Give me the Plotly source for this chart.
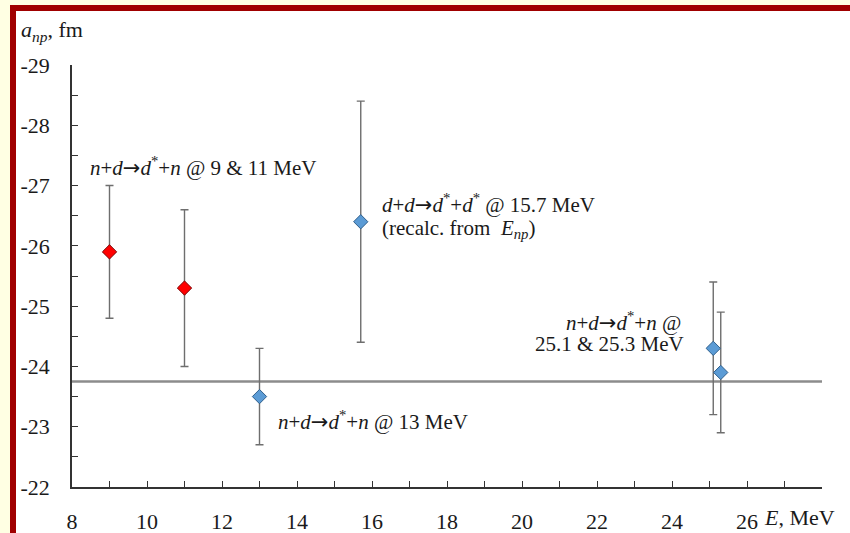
import plotly.graph_objects as go

# Measurements of the np scattering length a_np (fm) vs. beam energy E (MeV)
red_energy = [9.0, 11.0]
red_anp = [-25.9, -25.3]
red_err = [1.1, 1.3]

blue_energy = [13.0, 15.7, 25.1, 25.3]
blue_anp = [-23.5, -26.4, -24.3, -23.9]
blue_err = [0.8, 2.0, 1.1, 1.0]

reference_anp = -23.75
x_range = [8, 28]
y_range = [-22, -29]
x_tickvals = [8, 10, 12, 14, 16, 18, 20, 22, 24, 26]
y_tickvals = [-29, -28, -27, -26, -25, -24, -23, -22]
y_ticktext = ["-29", "-28", "-27", "-26", "-25", "-24", "-23", "-22"]

serif = "Liberation Serif, Times New Roman, serif"
ink = "#1a1a1a"
err_color = "#6e6e6e"
arrow = '<span style="font-family:DejaVu Sans">→</span>'

fig = go.Figure()

# reference value line
fig.add_trace(go.Scatter(
    x=x_range, y=[reference_anp, reference_anp], mode="lines",
    line=dict(color="#8c8c8c", width=2.5), hoverinfo="skip", showlegend=False,
))

fig.add_trace(go.Scatter(
    x=blue_energy, y=blue_anp, mode="markers",
    marker=dict(symbol="diamond", size=11, color="#5b9bd5",
                line=dict(color="#2f5f8c", width=1)),
    error_y=dict(type="data", array=blue_err, arrayminus=blue_err,
                 color=err_color, thickness=1.4, width=4),
    showlegend=False,
))

fig.add_trace(go.Scatter(
    x=red_energy, y=red_anp, mode="markers",
    marker=dict(symbol="diamond", size=11, color="#ff0000",
                line=dict(color="#7a0000", width=1)),
    error_y=dict(type="data", array=red_err, arrayminus=red_err,
                 color=err_color, thickness=1.4, width=4),
    showlegend=False,
))

W, H = 850, 533
ml, mr, mt, mb = 72, 28, 65, 46
pw, ph = W - ml - mr, H - mt - mb


def px(x):
    return (x - ml) / pw


def py(y):
    return (H - mb - y) / ph


# framed panel: cream page, dark red border, white interior
fig.add_shape(type="rect", xref="paper", yref="paper",
              x0=px(13), x1=px(W + 40), y0=py(H + 40), y1=py(8),
              line=dict(color="#a00000", width=6), fillcolor="white",
              layer="below")


def reaction(a, b, c, d):
    return (f"<i>{a}</i>+<i>{b}</i>{arrow}<i>{c}</i><sup>*</sup>+<i>{d}</i>")


txt = dict(family=serif, size=21, color=ink)
ann = [
    dict(x=8.43, y=-27.31, xanchor="left",
         text=reaction("n", "d", "d", "n") + " @ 9 &amp; 11 MeV"),
    dict(x=16.22, y=-26.71, xanchor="left",
         text="<i>d</i>+<i>d</i>" + arrow + "<i>d</i><sup>*</sup>+<i>d</i><sup>*</sup> @ 15.7 MeV"),
    dict(x=16.22, y=-26.28, xanchor="left",
         text="(recalc. from  <i>E</i><sub><i>np</i></sub>)"),
    dict(x=24.29, y=-24.74, xanchor="right",
         text=reaction("n", "d", "d", "n") + " @"),
    dict(x=24.36, y=-24.38, xanchor="right",
         text="25.1 &amp; 25.3 MeV"),
    dict(x=13.45, y=-23.11, xanchor="left",
         text=reaction("n", "d", "d", "n") + " @ 13 MeV"),
]
for a in ann:
    fig.add_annotation(**a, yanchor="middle", showarrow=False, font=txt)

# axis titles
fig.add_annotation(xref="paper", yref="paper", x=px(19), y=py(31),
                   xanchor="left", yanchor="middle", showarrow=False,
                   text="<i>a</i><sub><i>np</i></sub>, fm",
                   font=dict(family=serif, size=22, color=ink))
fig.add_annotation(xref="paper", yref="paper", x=px(762), y=py(517),
                   xanchor="left", yanchor="middle", showarrow=False,
                   text="<i>E</i>, MeV",
                   font=dict(family=serif, size=22, color=ink))

fig.update_layout(
    width=W, height=H,
    margin=dict(l=ml, r=mr, t=mt, b=mb, autoexpand=False),
    paper_bgcolor="#ffffe3", plot_bgcolor="rgba(0,0,0,0)",
    font=dict(family=serif, size=22, color=ink),
    xaxis=dict(range=x_range, tickvals=x_tickvals, ticks="inside", ticklen=6,
               tickcolor="#333", showline=True, linecolor="#333", linewidth=1.5,
               showgrid=False, zeroline=False, ticklabelstandoff=14,
               automargin=False,
               minor=dict(dtick=1, tick0=8, ticks="inside", ticklen=6, tickcolor="#333"),
               tickfont=dict(family=serif, size=22, color=ink)),
    yaxis=dict(range=y_range, tickvals=y_tickvals, ticktext=y_ticktext,
               ticks="inside", ticklen=6, automargin=False,
               tickcolor="#333", showline=True, linecolor="#333", linewidth=1.5,
               showgrid=False, zeroline=False, ticklabelstandoff=16,
               minor=dict(dtick=0.5, tick0=-29, ticks="inside", ticklen=6, tickcolor="#333"),
               tickfont=dict(family=serif, size=22, color=ink)),
)

fig.write_html("out.html")
